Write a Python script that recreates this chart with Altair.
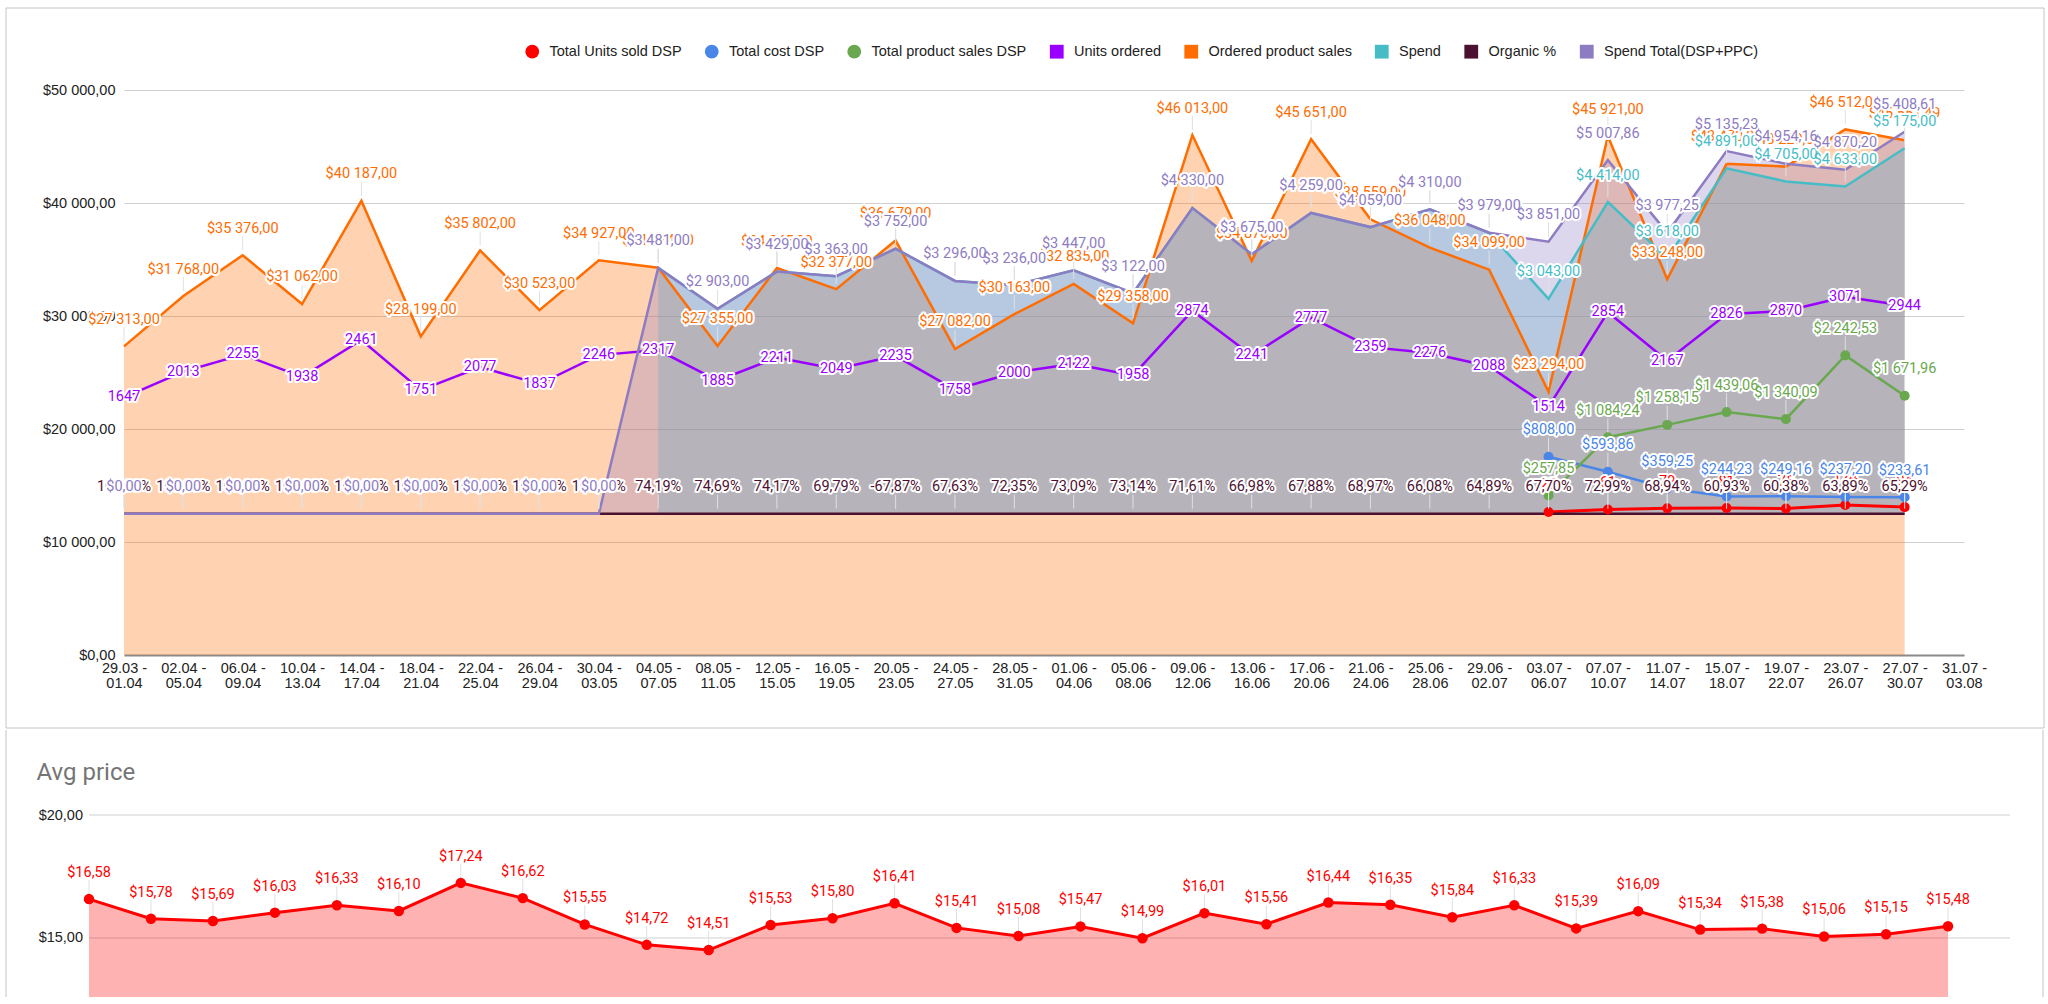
import altair as alt
import pandas as pd

# ---------------------------------------------------------------- data
categories = [
    "29.03 - 01.04", "02.04 - 05.04", "06.04 - 09.04", "10.04 - 13.04",
    "14.04 - 17.04", "18.04 - 21.04", "22.04 - 25.04", "26.04 - 29.04",
    "30.04 - 03.05", "04.05 - 07.05", "08.05 - 11.05", "12.05 - 15.05",
    "16.05 - 19.05", "20.05 - 23.05", "24.05 - 27.05", "28.05 - 31.05",
    "01.06 - 04.06", "05.06 - 08.06", "09.06 - 12.06", "13.06 - 16.06",
    "17.06 - 20.06", "21.06 - 24.06", "25.06 - 28.06", "29.06 - 02.07",
    "03.07 - 06.07", "07.07 - 10.07", "11.07 - 14.07", "15.07 - 18.07",
    "19.07 - 22.07", "23.07 - 26.07", "27.07 - 30.07", "31.07 - 03.08",
]

units_sold_dsp = [None] * 24 + [25, 61, 79, 81, 75, 124, 94]
cost_dsp = [None] * 24 + [808.00, 593.86, 359.25, 244.23, 249.16, 237.20, 233.61]
sales_dsp = [None] * 24 + [257.85, 1084.24, 1258.15, 1439.06, 1340.09, 2242.53, 1671.96]
units_ordered = [1647, 2013, 2255, 1938, 2461, 1751, 2077, 1837, 2246, 2317, 1885,
                 2211, 2049, 2235, 1758, 2000, 2122, 1958, 2874, 2241, 2777, 2359,
                 2276, 2088, 1514, 2854, 2167, 2826, 2870, 3071, 2944]
ordered_sales = [27313, 31768, 35376, 31062, 40187, 28199, 35802, 30523, 34927,
                 34274, 27355, 34245, 32377, 36679, 27082, 30163, 32835, 29358,
                 46013, 34870, 45651, 38559, 36048, 34099, 23294, 45921, 33248,
                 43470, 43220, 46512, 45551.49]
spend = [None] * 9 + [3481, 2903, 3429, 3363, 3752, 3296, 3236, 3447, 3122, 4330,
                      3675, 4259, 4059, 4310, 3979, 3043, 4414, 3618, 4891, 4705,
                      4633, 5175]
organic = [1.0] * 9 + [0.7419, 0.7469, 0.7417, 0.6979, -0.6787, 0.6763, 0.7235,
                       0.7309, 0.7314, 0.7161, 0.6698, 0.6788, 0.6897, 0.6608,
                       0.6489, 0.6770, 0.7299, 0.6894, 0.6093, 0.6038, 0.6389,
                       0.6529]
spend_total = [0] * 9 + [3481, 2903, 3429, 3363, 3752, 3296, 3236, 3447, 3122,
                         4330, 3675, 4259, 4059, 4310, 3979, 3851, 5007.86,
                         3977.25, 5135.23, 4954.16, 4870.20, 5408.61]
avg_price = [16.58, 15.78, 15.69, 16.03, 16.33, 16.10, 17.24, 16.62, 15.55, 14.72,
             14.51, 15.53, 15.80, 16.41, 15.41, 15.08, 15.47, 14.99, 16.01, 15.56,
             16.44, 16.35, 15.84, 16.33, 15.39, 16.09, 15.34, 15.38, 15.06, 15.15,
             15.48]
price_ticks = [15, 20]

series_names = ["Total Units sold DSP", "Total cost DSP", "Total product sales DSP",
                "Units ordered", "Ordered product sales", "Spend", "Organic %",
                "Spend Total(DSP+PPC)"]
series_colors = ["#ff0000", "#4a86e8", "#6aa84f", "#9900ff", "#ff6d01", "#46bdc6",
                 "#4c1130", "#8e7cc3"]
series_shapes = ["circle", "circle", "circle", "square", "square", "square",
                 "square", "square"]
RED, BLUE, GREEN, PURPLE, ORANGE, TEAL, MAROON, LAVENDER = series_colors


def pad(vals):
    return list(vals) + [None] * (len(categories) - len(vals))


df = pd.DataFrame({
    "week": categories,
    "units_sold_dsp": pad(units_sold_dsp),
    "cost_dsp": pad(cost_dsp),
    "sales_dsp": pad(sales_dsp),
    "units_ordered": pad(units_ordered),
    "ordered_sales": pad(ordered_sales),
    "spend": pad(spend),
    "organic": pad(organic),
    "spend_total": pad(spend_total),
    "avg_price": pad(avg_price),
})
one_row = pd.DataFrame({"k": [0]})
legend_df = pd.DataFrame({"series": series_names})
tick_df = pd.DataFrame({"avg_price": price_ticks})

# ---------------------------------------------------------------- styling
AX_FONT = "Liberation Sans"
LBL_FONT = "Roboto"
AX_SIZE = 14.5
LBL_SIZE = 14.5
FRAME = "#c4c4c4"
GRID = "#d0d0d0"
LEADER = "#e0e0e0"

x_axis = alt.Axis(
    title=None, labelAngle=0, labelFont=AX_FONT, labelFontSize=AX_SIZE,
    labelColor="#222222", labelLineHeight=15, labelPadding=6, labelBaseline="top",
    labelExpr="[split(datum.label, ' - ')[0] + ' -', split(datum.label, ' - ')[1]]",
    ticks=False, domainColor="#8a8a8a", domainWidth=2, labelOverlap=False,
    grid=False,
)
X = alt.X("week:O", scale=alt.Scale(type="point", padding=0, domain=categories),
          axis=x_axis)

left_scale = alt.Scale(domain=[0, 50000], nice=False, zero=False)
right_scale = alt.Scale(domain=[-2000, 6000], nice=False, zero=False)

left_axis = alt.Axis(
    orient="left", values=[0, 10000, 20000, 30000, 40000, 50000], format="$,.2f",
    title=None, grid=True, gridColor=GRID, domain=False, ticks=False,
    labelPadding=9, labelFont=AX_FONT, labelFontSize=AX_SIZE, labelColor="#222222",
)
right_axis = alt.Axis(
    orient="right", values=[-2000, 0, 2000, 4000, 6000], format="d", title=None,
    grid=False, domain=False, ticks=False, labelPadding=8, labelFont=AX_FONT,
    labelFontSize=AX_SIZE, labelColor="#222222",
)


def yl(col, axis=None):
    return alt.Y(f"{col}:Q", scale=left_scale, axis=axis)


def yr(col, axis=None):
    return alt.Y(f"{col}:Q", scale=right_scale, axis=axis)


def area(col, color, y):
    return alt.Chart(df).mark_area(color=color, opacity=0.3).encode(
        x=X, y=y, y2=alt.datum(0))


def line(col, color, y, width=2.5):
    return alt.Chart(df).mark_line(color=color, strokeWidth=width).encode(x=X, y=y)


def dots(col, color, y):
    return alt.Chart(df).mark_circle(color=color, size=100, opacity=1).encode(x=X, y=y)


def leader(col, y):
    return alt.Chart(df).mark_rule(color=LEADER, strokeWidth=1, yOffset=-19,
                                   y2Offset=-5).encode(
        x=X, y=y, y2=alt.Y2(f"{col}:Q"))


def labels(col, color, y, fmt, dy=-26.5):
    base = alt.Chart(df).encode(x=X, y=y, text=alt.Text(f"{col}:Q", format=fmt))
    halo = base.mark_text(dy=dy, font=LBL_FONT, fontSize=LBL_SIZE, color="white",
                          stroke="white", strokeWidth=4, strokeJoin="round")
    txt = base.mark_text(dy=dy, font=LBL_FONT, fontSize=LBL_SIZE, color=color)
    return [halo, txt]


# ---------------------------------------------------------------- top chart
frame_top = alt.Chart(one_row).mark_rect(
    fillOpacity=0, stroke=FRAME, strokeWidth=1).encode(
    x=alt.value(-118), x2=alt.value(1920), y=alt.value(-82), y2=alt.value(638))

legend_cfg = alt.Legend(
    orient="none", legendX=401, legendY=-46, direction="horizontal", columns=8,
    title=None, labelFont=AX_FONT, labelFontSize=AX_SIZE, labelColor="#222222",
    symbolSize=190, symbolStrokeWidth=0, columnPadding=22.5, labelOffset=10,
    padding=0, rowPadding=0,
)
legend_layer = alt.Chart(legend_df).mark_point(filled=True, opacity=1).encode(
    color=alt.Color("series:N", scale=alt.Scale(domain=series_names,
                                                  range=series_colors),
                    legend=legend_cfg),
    shape=alt.Shape("series:N", scale=alt.Scale(domain=series_names,
                                                  range=series_shapes),
                    legend=legend_cfg),
).transform_filter("false")

g_left_area = alt.layer(
    frame_top,
    legend_layer,
    area("ordered_sales", ORANGE, yl("ordered_sales", left_axis)),
)
g_right_area = alt.layer(
    area("spend", TEAL, yr("spend", right_axis)),
    area("spend_total", LAVENDER, yr("spend_total")),
)
g_right_lines1 = alt.layer(
    line("units_sold_dsp", RED, yr("units_sold_dsp"), 3),
    line("cost_dsp", BLUE, yr("cost_dsp")),
    line("sales_dsp", GREEN, yr("sales_dsp")),
    line("units_ordered", PURPLE, yr("units_ordered")),
)
g_left_line = line("ordered_sales", ORANGE, yl("ordered_sales"))
g_right_lines2 = alt.layer(
    line("spend", TEAL, yr("spend")),
    line("organic", MAROON, yr("organic")),
    line("spend_total", LAVENDER, yr("spend_total")),
)
g_right_dots = alt.layer(
    dots("units_sold_dsp", RED, yr("units_sold_dsp")),
    dots("cost_dsp", BLUE, yr("cost_dsp")),
    dots("sales_dsp", GREEN, yr("sales_dsp")),
)
g_right_leaders = alt.layer(*[
    leader(c, yr(c)) for c in
    ["units_sold_dsp", "cost_dsp", "sales_dsp", "spend", "organic", "spend_total"]
])
g_left_leaders = leader("ordered_sales", yl("ordered_sales"))
g_right_labels1 = alt.layer(
    *labels("units_sold_dsp", RED, yr("units_sold_dsp"), "d"),
    *labels("cost_dsp", BLUE, yr("cost_dsp"), "$,.2f"),
    *labels("sales_dsp", GREEN, yr("sales_dsp"), "$,.2f"),
    *labels("units_ordered", PURPLE, yr("units_ordered"), "d", dy=0),
)
g_left_labels = alt.layer(
    *labels("ordered_sales", ORANGE, yl("ordered_sales"), "$,.2f"))
g_right_labels2 = alt.layer(
    *labels("spend", TEAL, yr("spend"), "$,.2f"),
    *labels("organic", MAROON, yr("organic"), ",.2%"),
    *labels("spend_total", LAVENDER, yr("spend_total"), "$,.2f"),
)

top = alt.layer(
    g_left_area, g_right_area, g_right_lines1, g_left_line, g_right_lines2,
    g_right_dots, g_right_leaders, g_left_leaders, g_right_labels1,
    g_left_labels, g_right_labels2,
).resolve_scale(y="independent").properties(width=1840, height=565)

# ---------------------------------------------------------------- avg price chart
# Both panels share the same origin inside the vertical stack, so this panel's
# x range starts 35 px left of it to sit further out than the upper plot.
price_scale = alt.Scale(domain=[12.6, 20], nice=False, zero=False)
price_axis = alt.Axis(
    values=price_ticks, format="$,.2f", title=None, grid=False, domain=False,
    ticks=False, labelPadding=41.5, labelFont=AX_FONT, labelFontSize=AX_SIZE,
    labelColor="#222222",
)
Xb = alt.X("week:O", scale=alt.Scale(type="point", padding=0, domain=categories,
                                     range=[-35, 1886]),
           axis=None)
Yb = alt.Y("avg_price:Q", scale=price_scale, axis=price_axis)

frame_bottom = [
    alt.Chart(one_row).mark_rule(color=FRAME, strokeWidth=1).encode(
        x=alt.value(xv), y=alt.value(-85), y2=alt.value(182))
    for xv in (-118, 1919)
]
price_title = alt.Chart(one_row).mark_text(
    text="Avg price", align="left", baseline="middle", font=LBL_FONT,
    fontSize=24, color="#757575").encode(x=alt.value(-87.5), y=alt.value(-42))
price_grid = alt.Chart(tick_df).mark_rule(color=GRID, strokeWidth=1).encode(
    y=Yb, x=alt.value(-35), x2=alt.value(1886))

price_base = alt.Chart(df).encode(x=Xb, y=Yb)
price_area = price_base.mark_area(color=RED, opacity=0.3).encode(y2=alt.datum(12.6))
price_line = price_base.mark_line(color=RED, strokeWidth=3)
price_leader = price_base.mark_rule(color=LEADER, strokeWidth=1, yOffset=-19,
                                    y2Offset=-5).encode(y2=alt.Y2("avg_price:Q"))
price_dots = price_base.mark_circle(color=RED, size=110, opacity=1)
price_text = price_base.encode(text=alt.Text("avg_price:Q", format="$,.2f"))
price_halo = price_text.mark_text(dy=-26, font=LBL_FONT, fontSize=LBL_SIZE,
                                  color="white", stroke="white", strokeWidth=4,
                                  strokeJoin="round")
price_lbl = price_text.mark_text(dy=-26, font=LBL_FONT, fontSize=LBL_SIZE, color=RED)

bottom = alt.layer(
    *frame_bottom, price_title, price_grid, price_area, price_line, price_leader,
    price_dots, price_halo, price_lbl,
).properties(width=1886, height=182)

# ---------------------------------------------------------------- page
chart = alt.vconcat(top, bottom, spacing=0).properties(
    padding={"left": 5, "top": 7, "right": 0, "bottom": 0},
    background="white",
).configure(
    locale={"number": {"decimal": ",", "thousands": " ", "grouping": [3],
                       "currency": ["$", ""], "minus": "-"}},
).configure_view(strokeWidth=0)

chart.save("out.html", embed_options={"renderer": "svg", "actions": False})
